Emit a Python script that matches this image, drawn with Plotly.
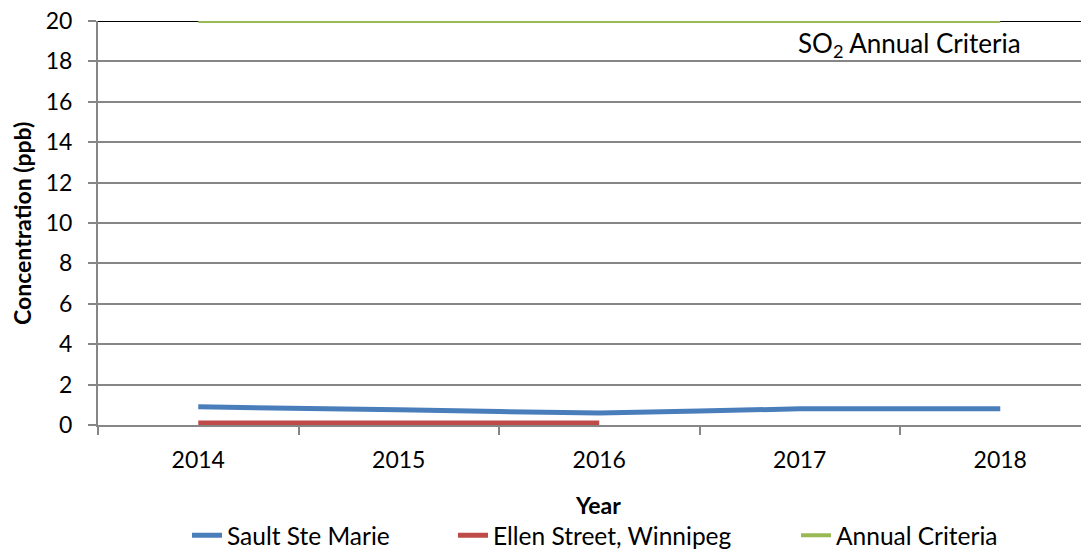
import plotly.graph_objects as go

years = [2014, 2015, 2016, 2017, 2018]
sault_ste_marie = [0.9, 0.75, 0.6, 0.8, 0.8]
ellen_years = [2014, 2015, 2016]
ellen_street = [0.1, 0.1, 0.1]
criteria_years = [2014, 2015, 2016, 2017, 2018]
annual_criteria = [20, 20, 20, 20, 20]
y_ticks = list(range(0, 21, 2))
category_bounds = [2013.5, 2014.5, 2015.5, 2016.5, 2017.5]

FONT = "Lato"
GRID = "#868686"
FS = 23
LFS = 24.5
OFF = 8  # page body margin

fig = go.Figure()
fig.add_trace(go.Scatter(x=years, y=sault_ste_marie, mode="lines", name="Sault Ste Marie",
                         line=dict(color="#4A7EBB", width=5, shape="spline", smoothing=0.5),
                         legend="legend"))
fig.add_trace(go.Scatter(x=ellen_years, y=ellen_street, mode="lines", name="Ellen Street, Winnipeg",
                         line=dict(color="#BE4B48", width=5), legend="legend2"))
fig.add_trace(go.Scatter(x=criteria_years, y=annual_criteria, mode="lines", name="Annual Criteria",
                         line=dict(color="#98B954", width=4), cliponaxis=False, legend="legend3"))

fig.add_shape(type="line", xref="paper", yref="y", x0=0, x1=1, y0=20, y1=20,
              line=dict(color="black", width=2), layer="below")

def leg(px):
    return dict(orientation="h", x=(px - 98) / 991, xanchor="left", y=-0.273, yanchor="middle",
                font=dict(size=LFS), bgcolor="rgba(0,0,0,0)")

fig.update_layout(
    width=1089 - OFF, height=550 - OFF,
    margin=dict(l=98 - OFF, r=0, t=21 - OFF, b=125, autoexpand=False),
    paper_bgcolor="white", plot_bgcolor="white",
    font=dict(family=FONT, size=FS, color="black"),
    showlegend=True,
    legend=leg(187),
    legend2=leg(453),
    legend3=leg(796),
    xaxis=dict(
        range=[2013.5, 2013.5 + 991 / 200.5],
        tickmode="array", tickvals=years, ticktext=[str(y) for y in years],
        ticks="outside", ticklen=0, tickcolor="rgba(0,0,0,0)",
        ticklabelstandoff=13, automargin=False, ticklabeloverflow="allow",
        showgrid=False, zeroline=False,
        showline=True, linecolor=GRID, linewidth=2,
        minor=dict(tickmode="array", tickvals=category_bounds, ticks="outside",
                   ticklen=8, tickcolor=GRID, tickwidth=2, showgrid=False),
    ),
    yaxis=dict(
        range=[0, 20], tickmode="array", tickvals=y_ticks,
        ticks="outside", ticklen=8, tickcolor=GRID, tickwidth=2,
        ticklabelstandoff=11, automargin=False, ticklabeloverflow="allow",
        showgrid=True, gridcolor=GRID, gridwidth=2,
        zeroline=False, showline=True, linecolor=GRID, linewidth=2,
    ),
    annotations=[
        dict(text="<b>Year</b>", xref="paper", yref="paper", x=0.5045, y=-0.198,
             xanchor="center", yanchor="middle", showarrow=False, font=dict(size=FS)),
        dict(text="<b>Concentration (ppb)</b>", xref="paper", yref="paper", x=-0.0767, y=0.5,
             xanchor="center", yanchor="middle", textangle=-90, showarrow=False, font=dict(size=FS)),
        dict(text="SO<sub>2</sub> Annual Criteria", xref="x", yref="y", x=2017.545, y=18.86,
             xanchor="center", yanchor="middle", showarrow=False, font=dict(size=26)),
    ],
)

fig.write_html("out.html")
